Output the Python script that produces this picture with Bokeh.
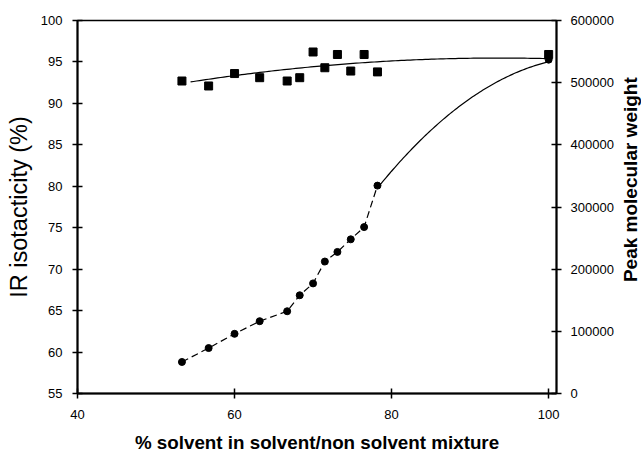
import numpy as np
from bokeh.plotting import figure
from bokeh.layouts import row
from bokeh.models import Range1d, LinearAxis, FixedTicker, BasicTickFormatter
from bokeh.core.properties import value
from bokeh.embed import file_html
from bokeh.resources import INLINE

# ---- data ----
solvent_pct = [53.3, 56.7, 60.0, 63.2, 66.7, 68.3, 70.0, 71.5, 73.1, 74.8, 76.5, 78.2, 100.0]
ir_isotacticity = [92.7, 92.1, 93.6, 93.1, 92.7, 93.1, 96.2, 94.3, 95.9, 93.9, 95.9, 93.8, 95.9]
peak_mw = [50700, 73100, 96000, 116300, 132300, 158000, 177100, 212300, 227700, 248000, 267700, 334400, 537000]

# trend curves as drawn in the reference
iso_trend_x = [54.4, 58.4, 61.2, 70.3, 73.1, 83.7, 92.2, 100.0]
iso_trend_y = [92.6, 93.1, 93.5, 94.5, 94.7, 95.2, 95.5, 95.4]
mw_trend_x = [78.2, 79.4, 83.7, 87.9, 92.2, 96.4, 100.0]
mw_trend_y = [334400, 344000, 408000, 456000, 491200, 520000, 533000]

x_ticks = [40, 60, 80, 100]
left_ticks = [55, 60, 65, 70, 75, 80, 85, 90, 95, 100]
right_ticks = [0, 100000, 200000, 300000, 400000, 500000, 600000]

right_title = "Peak molecular weight"

FONT = "Liberation Sans"

p = figure(width=617, height=455, output_backend="svg", toolbar_location=None,
           x_range=Range1d(40, 101), y_range=Range1d(55, 100),
           min_border_left=77, min_border_right=61, min_border_top=20, min_border_bottom=60)
p.extra_y_ranges = {"mw": Range1d(0, 600000)}

p.grid.visible = False
p.outline_line_color = "black"
p.outline_line_width = 1.5
p.background_fill_color = "white"
p.border_fill_color = "white"

def style_axis(ax):
    ax.axis_line_width = 2
    ax.axis_line_color = "black"
    ax.major_tick_in = 5
    ax.major_tick_out = 5
    ax.major_tick_line_width = 1.5
    ax.minor_tick_line_color = None
    ax.major_label_text_font = FONT
    ax.major_label_text_font_size = "13px"
    ax.major_label_text_color = "black"
    ax.axis_label_text_font = FONT
    ax.axis_label_text_color = "black"

# bottom axis
xa = p.xaxis[0]
style_axis(xa)
xa.ticker = FixedTicker(ticks=x_ticks)
xa.major_label_standoff = 11
xa.axis_label = "% solvent in solvent/non solvent mixture"
xa.axis_label_text_font_style = "bold"
xa.axis_label_text_font_size = "18.8px"
xa.axis_label_standoff = 10

# left axis
ya = p.yaxis[0]
style_axis(ya)
ya.ticker = FixedTicker(ticks=left_ticks)
ya.major_label_standoff = 10
ya.axis_label = "IR isotacticity (%)"
ya.axis_label_text_font_style = "normal"
ya.axis_label_text_font_size = "23.5px"
ya.axis_label_standoff = 6

# right axis (ticks and numbers); its title reads bottom-to-top in the strip beside it
ra = LinearAxis(y_range_name="mw")
style_axis(ra)
ra.ticker = FixedTicker(ticks=right_ticks)
ra.formatter = BasicTickFormatter(use_scientific=False)
ra.major_label_standoff = 9
p.add_layout(ra, "right")

# isotacticity trend
icoef = np.polyfit(iso_trend_x, iso_trend_y, 2)
tx = np.linspace(iso_trend_x[0], iso_trend_x[-1], 120)
p.line(tx, np.polyval(icoef, tx), line_color="black", line_width=1.2)

# molecular weight: dashed connection at low solvent, smooth curve above
n_low = 12
p.line(solvent_pct[:n_low], peak_mw[:n_low], y_range_name="mw",
       line_color="black", line_width=1.2, line_dash="7 4")
mcoef = np.polyfit(mw_trend_x, mw_trend_y, 2)
mx = np.linspace(mw_trend_x[0], mw_trend_x[-1], 100)
p.line(mx, np.polyval(mcoef, mx), y_range_name="mw", line_color="black", line_width=1.2)

p.scatter(solvent_pct, ir_isotacticity, marker="square", size=8,
          fill_color="black", line_color="black")
p.scatter(solvent_pct, peak_mw, y_range_name="mw", marker="circle", size=7,
          fill_color="black", line_color="black")

# strip holding the right-hand axis title
t = figure(width=24, height=455, output_backend="svg", toolbar_location=None,
           x_range=Range1d(0, 24), y_range=Range1d(55, 100),
           min_border_left=0, min_border_right=0, min_border_top=20, min_border_bottom=60)
t.axis.visible = False
t.grid.visible = False
t.outline_line_color = None
t.background_fill_color = "white"
t.border_fill_color = "white"
t.text(x=[13], y=[80.8], text=[right_title], angle=np.pi / 2,
       text_align="center", text_baseline="middle",
       text_font=value(FONT), text_font_style="bold", text_font_size="19px",
       text_color="black")

layout = row(p, t, spacing=0)
open("out.html", "w").write(file_html(layout, INLINE))
